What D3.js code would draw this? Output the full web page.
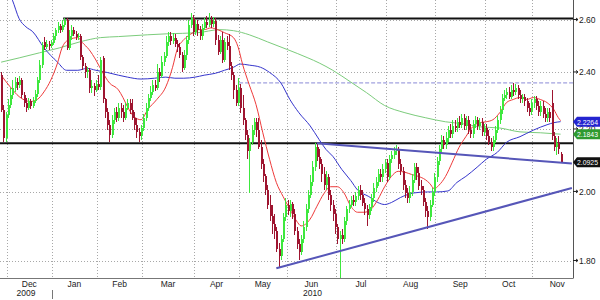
<!DOCTYPE html>
<html><head><meta charset="utf-8">
<script src="https://cdn.jsdelivr.net/npm/d3@7"></script>
<style>html,body{margin:0;padding:0;background:#fff;}svg{display:block;font-family:"Liberation Sans",Arial,sans-serif;}</style>
</head><body><svg id="c" width="600" height="300"></svg>
<script>
// ---------- DATA ----------
const firstDay = "2009-11-26", lastVisibleDay = "2010-11-24", labelEndDay = "2010-12-01";
const holidays = ["2009-12-24","2009-12-25","2009-12-31","2010-01-01","2010-04-02","2010-04-05"];
const opens = [
2.390,2.268,2.173,2.250,2.285,2.320,2.344,2.365,2.355,2.372,
2.320,2.292,2.275,2.296,2.282,2.299,2.323,2.372,2.427,2.515,
2.496,2.508,2.500,2.512,2.538,2.562,2.577,2.562,2.581,2.600,
2.492,2.538,2.562,2.546,2.535,2.538,2.458,2.423,2.400,2.408,
2.344,2.351,2.337,2.358,2.348,2.454,2.303,2.261,2.216,2.182,
2.233,2.261,2.240,2.275,2.261,2.240,2.275,2.289,2.268,2.240,
2.216,2.192,2.179,2.205,2.240,2.275,2.310,2.330,2.355,2.344,
2.400,2.386,2.438,2.462,2.515,2.538,2.519,2.531,2.508,2.496,
2.465,2.415,2.465,2.523,2.581,2.608,2.554,2.585,2.562,2.538,
2.569,2.592,2.581,2.600,2.585,2.596,2.523,2.477,2.523,2.446,
2.515,2.500,2.423,2.390,2.337,2.292,2.344,2.275,2.233,2.182,
2.128,2.160,2.198,2.226,2.198,2.141,2.086,2.048,2.006,1.962,
1.928,1.904,1.884,1.832,1.814,1.861,1.925,1.962,1.942,1.965,
1.933,1.884,1.846,1.826,1.861,1.896,1.948,1.991,2.032,2.077,
2.141,2.109,2.086,2.054,2.022,2.045,1.991,1.962,1.933,1.896,
1.861,1.872,1.861,1.913,1.948,1.962,1.977,1.971,1.988,2.006,
1.991,1.968,1.948,1.930,1.954,1.983,2.013,2.032,2.054,2.045,
2.070,2.090,2.045,2.102,2.115,2.128,2.134,2.086,2.064,2.022,
1.997,1.983,2.000,2.038,2.077,2.058,2.019,2.006,1.971,1.942,
1.925,1.962,2.000,2.045,2.096,2.134,2.166,2.147,2.173,2.198,
2.186,2.212,2.205,2.226,2.216,2.240,2.212,2.233,2.198,2.186,
2.219,2.233,2.212,2.226,2.192,2.205,2.179,2.160,2.141,2.166,
2.198,2.233,2.268,2.310,2.320,2.330,2.313,2.337,2.330,2.344,
2.320,2.303,2.313,2.296,2.275,2.261,2.289,2.303,2.282,2.261,
2.282,2.254,2.240,2.261,2.289,2.179,2.141,2.154,2.118];
const highs = [
2.400,2.285,2.261,2.303,2.344,2.372,2.383,2.379,2.386,2.379,
2.330,2.310,2.310,2.306,2.313,2.337,2.383,2.446,2.515,2.535,
2.523,2.519,2.523,2.550,2.569,2.592,2.585,2.600,2.608,2.608,
2.562,2.581,2.573,2.558,2.550,2.546,2.465,2.435,2.419,2.415,
2.372,2.362,2.372,2.390,2.458,2.462,2.310,2.275,2.233,2.250,
2.275,2.278,2.289,2.289,2.285,2.289,2.303,2.303,2.303,2.261,
2.240,2.205,2.216,2.254,2.292,2.323,2.351,2.372,2.372,2.431,
2.415,2.462,2.477,2.538,2.554,2.554,2.550,2.546,2.523,2.512,
2.477,2.485,2.538,2.600,2.628,2.620,2.600,2.600,2.577,2.585,
2.608,2.616,2.628,2.616,2.612,2.608,2.542,2.538,2.554,2.531,
2.538,2.546,2.438,2.400,2.355,2.379,2.358,2.320,2.240,2.198,
2.173,2.216,2.240,2.240,2.240,2.166,2.102,2.054,2.022,1.991,
1.962,1.933,1.896,1.849,1.872,1.936,1.983,1.977,1.977,1.971,
1.948,1.896,1.861,1.872,1.913,1.965,2.006,2.051,2.096,2.154,
2.154,2.134,2.102,2.077,2.064,2.054,2.006,1.977,1.948,1.904,
1.884,1.890,1.925,1.959,1.977,1.988,1.991,2.000,2.019,2.022,
2.006,1.983,1.962,1.965,1.994,2.026,2.045,2.070,2.070,2.086,
2.102,2.102,2.115,2.128,2.141,2.147,2.141,2.102,2.077,2.038,
2.013,2.019,2.054,2.090,2.090,2.077,2.038,2.019,1.983,1.957,
1.977,2.013,2.058,2.109,2.147,2.182,2.179,2.192,2.212,2.219,
2.233,2.233,2.240,2.247,2.254,2.254,2.247,2.247,2.219,2.233,
2.247,2.243,2.240,2.240,2.219,2.219,2.198,2.173,2.179,2.212,
2.247,2.282,2.323,2.337,2.344,2.348,2.355,2.362,2.358,2.355,
2.337,2.323,2.323,2.310,2.289,2.303,2.317,2.317,2.296,2.296,
2.296,2.275,2.275,2.275,2.337,2.192,2.173,2.179,2.125];
const lows = [
2.261,2.157,2.157,2.240,2.275,2.303,2.330,2.337,2.344,2.310,
2.278,2.261,2.268,2.271,2.275,2.289,2.313,2.362,2.415,2.485,
2.488,2.485,2.492,2.504,2.523,2.550,2.550,2.554,2.573,2.485,
2.485,2.523,2.538,2.523,2.523,2.446,2.408,2.379,2.379,2.327,
2.327,2.317,2.330,2.337,2.337,2.292,2.240,2.198,2.157,2.173,
2.219,2.226,2.230,2.240,2.226,2.233,2.268,2.254,2.233,2.198,
2.173,2.157,2.166,2.195,2.230,2.264,2.299,2.320,2.334,2.337,
2.365,2.379,2.423,2.454,2.500,2.504,2.508,2.496,2.477,2.454,
2.400,2.408,2.446,2.508,2.569,2.538,2.542,2.538,2.523,2.523,
2.562,2.569,2.573,2.569,2.573,2.504,2.465,2.469,2.435,2.438,
2.485,2.408,2.372,2.303,2.282,2.282,2.257,2.216,2.166,2.102,
1.997,2.147,2.182,2.176,2.134,2.070,2.032,1.991,1.948,1.913,
1.875,1.861,1.826,1.780,1.803,1.852,1.913,1.930,1.925,1.919,
1.872,1.832,1.803,1.817,1.849,1.884,1.936,1.983,2.019,2.064,
2.096,2.070,2.032,2.006,2.006,1.977,1.942,1.913,1.875,1.846,
1.751,1.846,1.852,1.901,1.936,1.954,1.959,1.959,1.977,1.977,
1.957,1.930,1.899,1.919,1.942,1.971,2.000,2.019,2.032,2.032,
2.058,2.032,2.038,2.090,2.102,2.115,2.070,2.051,2.006,1.983,
1.968,1.968,1.988,2.026,2.038,2.006,1.991,1.959,1.925,1.890,
1.913,1.954,1.988,2.032,2.083,2.118,2.134,2.134,2.160,2.173,
2.173,2.192,2.192,2.205,2.205,2.198,2.198,2.186,2.173,2.173,
2.205,2.198,2.198,2.179,2.179,2.166,2.147,2.128,2.128,2.154,
2.189,2.219,2.254,2.296,2.303,2.303,2.303,2.317,2.320,2.303,
2.289,2.292,2.282,2.261,2.247,2.250,2.275,2.268,2.247,2.247,
2.240,2.226,2.226,2.226,2.166,2.128,2.115,2.118,2.090];
const closes = [
2.268,2.173,2.250,2.285,2.320,2.344,2.365,2.355,2.372,2.320,
2.292,2.275,2.296,2.282,2.299,2.323,2.372,2.427,2.504,2.496,
2.508,2.500,2.512,2.538,2.562,2.577,2.562,2.581,2.600,2.492,
2.538,2.562,2.546,2.535,2.538,2.458,2.423,2.400,2.408,2.344,
2.351,2.337,2.358,2.348,2.446,2.303,2.261,2.216,2.182,2.233,
2.261,2.240,2.275,2.261,2.240,2.275,2.289,2.268,2.240,2.216,
2.192,2.179,2.205,2.240,2.275,2.310,2.330,2.355,2.344,2.400,
2.386,2.438,2.462,2.515,2.538,2.519,2.531,2.508,2.496,2.465,
2.415,2.465,2.523,2.581,2.608,2.554,2.585,2.562,2.538,2.569,
2.592,2.581,2.600,2.585,2.596,2.523,2.477,2.523,2.446,2.515,
2.500,2.423,2.390,2.337,2.292,2.344,2.275,2.233,2.182,2.128,
2.160,2.198,2.226,2.198,2.141,2.086,2.048,2.006,1.962,1.928,
1.904,1.884,1.832,1.814,1.861,1.925,1.962,1.942,1.965,1.933,
1.884,1.846,1.826,1.861,1.896,1.948,1.991,2.032,2.077,2.141,
2.109,2.086,2.054,2.022,2.045,1.991,1.962,1.933,1.896,1.861,
1.872,1.861,1.913,1.948,1.962,1.977,1.971,1.988,2.006,1.991,
1.968,1.948,1.930,1.954,1.983,2.013,2.032,2.054,2.045,2.070,
2.090,2.045,2.102,2.115,2.128,2.134,2.086,2.064,2.022,1.997,
1.983,2.000,2.038,2.077,2.058,2.019,2.006,1.971,1.942,1.925,
1.962,2.000,2.045,2.096,2.134,2.166,2.147,2.173,2.198,2.186,
2.212,2.205,2.226,2.216,2.240,2.212,2.233,2.198,2.186,2.219,
2.233,2.212,2.226,2.192,2.205,2.179,2.160,2.141,2.166,2.198,
2.233,2.268,2.310,2.320,2.330,2.313,2.337,2.330,2.344,2.320,
2.303,2.313,2.296,2.275,2.261,2.289,2.303,2.282,2.261,2.282,
2.254,2.240,2.261,2.240,2.179,2.141,2.154,2.134,2.0925];
// moving averages: [trading-day index, value]
const redMA = [[0,2.390],[4,2.348],[8,2.313],[13,2.296],[16,2.303],[19,2.330],[22,2.372],[25,2.435],[27,2.492],[30,2.523],[34,2.531],[36,2.512],[39,2.485],[42,2.446],[45,2.400],[48,2.362],[52,2.337],[54,2.310],[56,2.278],[59,2.243],[62,2.233],[65,2.268],[69,2.303],[73,2.348],[76,2.419],[78,2.485],[81,2.523],[85,2.550],[87,2.562],[90,2.562],[93,2.569],[96,2.562],[99,2.550],[103,2.531],[105,2.496],[107,2.431],[110,2.355],[113,2.285],[116,2.189],[119,2.102],[122,2.029],[125,1.986],[128,1.948],[131,1.913],[133,1.899],[137,1.919],[140,1.957],[143,1.994],[146,2.016],[149,2.016],[152,1.997],[155,1.957],[158,1.939],[161,1.939],[164,1.948],[167,1.977],[170,2.016],[173,2.048],[176,2.064],[179,2.061],[182,2.054],[185,2.048],[188,2.038],[190,2.026],[192,2.010],[194,2.020],[197,2.048],[200,2.093],[203,2.141],[206,2.176],[209,2.209],[212,2.223],[215,2.226],[218,2.233],[221,2.257],[224,2.292],[227,2.303],[230,2.310],[233,2.303],[236,2.310],[239,2.303],[242,2.292],[245,2.268],[247,2.240],[248,2.230]];
const blueMA = [[2,2.740],[5,2.680],[8,2.605],[11,2.573],[14,2.554],[19,2.492],[25,2.438],[29,2.408],[34,2.408],[38,2.415],[42,2.408],[47,2.400],[52,2.390],[56,2.383],[62,2.376],[68,2.379],[73,2.383],[77,2.379],[81,2.379],[86,2.383],[90,2.390],[95,2.397],[99,2.408],[103,2.419],[106,2.431],[110,2.427],[115,2.419],[119,2.400],[124,2.362],[128,2.303],[132,2.257],[137,2.212],[141,2.166],[144,2.134],[147,2.112],[151,2.070],[155,2.035],[158,2.006],[163,1.986],[167,1.968],[170,1.962],[173,1.968],[177,1.983],[183,1.997],[189,2.000],[193,2.000],[198,2.003],[202,2.029],[206,2.048],[211,2.077],[215,2.102],[220,2.125],[224,2.157],[230,2.176],[236,2.198],[242,2.216],[245,2.223],[248,2.2264]];
const greenMA = [[0,2.438],[8,2.454],[17,2.473],[26,2.492],[35,2.515],[44,2.531],[52,2.535],[65,2.542],[74,2.546],[87,2.550],[97,2.562],[103,2.558],[110,2.542],[118,2.515],[127,2.485],[136,2.454],[141,2.435],[147,2.408],[155,2.365],[162,2.327],[170,2.282],[179,2.257],[188,2.240],[197,2.226],[205,2.219],[212,2.209],[221,2.205],[230,2.192],[239,2.189],[248,2.1843]];
const yTicks = [1.80, 2.00, 2.20, 2.40, 2.60];
const trendLines = [[[140,2.154],[253,2.089]], [[122,1.780],[253,2.012]]];
const levelLines = [{start:28, value:2.606, kind:"solid"}, {start:0, value:2.154, kind:"solid"}, {start:106, value:2.362, kind:"dash"}];
const lastValues = [{value:2.2264, fill:"#2424d0"}, {value:2.1843, fill:"#2f9a2f"}, {value:2.0925, fill:"#111111"}];

// ---------- CHART ----------
const W = 573, H = 278;
const parse = d3.timeParse("%Y-%m-%d");
const hol = new Set(holidays);
const fmtKey = d3.timeFormat("%Y-%m-%d");
const allDays = d3.timeDay.range(parse(firstDay), d3.timeDay.offset(parse(labelEndDay),1))
  .filter(d => d.getDay()!==0 && d.getDay()!==6 && !hol.has(fmtKey(d)));
const nVisible = allDays.filter(d => d <= parse(lastVisibleDay)).length;

const x = d3.scaleLinear().domain([0, nVisible]).range([0, W]);
const y = d3.scaleLog().domain([1.80, 2.60]).range([261, 20]);

const svg = d3.select("#c");
svg.append("defs").append("clipPath").attr("id","clip").append("rect").attr("x",0).attr("y",0).attr("width",W).attr("height",H);

// month starts
const monthStarts = [];
allDays.forEach((d,i) => { if (i>0 && d.getMonth()!==allDays[i-1].getMonth()) monthStarts.push(i); });
const grid = svg.append("g");
monthStarts.filter(i => i < nVisible).forEach(i => {
  grid.append("line").attr("x1", Math.round(x(i))+0.5).attr("x2", Math.round(x(i))+0.5).attr("y1",0).attr("y2",H)
    .attr("stroke","#a8a8a8").attr("stroke-dasharray","1,2");
});
yTicks.forEach(v => {
  grid.append("line").attr("x1",0).attr("x2",W).attr("y1",Math.round(y(v))+0.5).attr("y2",Math.round(y(v))+0.5)
    .attr("stroke","#a8a8a8").attr("stroke-dasharray","1,2");
});

const plot = svg.append("g").attr("clip-path","url(#clip)");

// level lines
levelLines.forEach(l => {
  const yy = y(l.value);
  plot.append("line").attr("x1", x(l.start)).attr("x2", W).attr("y1", yy).attr("y2", yy)
    .attr("stroke", l.kind==="dash" ? "#8a8ad6" : "#111")
    .attr("stroke-width", l.kind==="dash" ? 1 : 2)
    .attr("stroke-dasharray", l.kind==="dash" ? "4,2" : null);
});

// moving averages
const line = d3.line().x(d => x(d[0]+0.5)).y(d => y(d[1])).curve(d3.curveMonotoneX);
[[greenMA,"#7ccc7c"],[blueMA,"#3535cc"],[redMA,"#ee3a3a"]].forEach(([data,col]) => {
  plot.append("path").attr("d", line(data)).attr("fill","none").attr("stroke",col).attr("stroke-width",1);
});

// candles
const candles = plot.append("g").attr("shape-rendering","crispEdges");
closes.forEach((c,i) => {
  const o = opens[i], up = c >= o;
  const col = up ? "#3ee83e" : "#9e1530";
  const cx = Math.round(x(i+0.5));
  candles.append("line").attr("x1",cx+0.5).attr("x2",cx+0.5).attr("y1",y(highs[i])).attr("y2",y(lows[i])).attr("stroke",col);
  const yt = y(Math.max(o,c)), yb = y(Math.min(o,c));
  candles.append("rect").attr("x",cx-0.5).attr("width",2).attr("y",yt).attr("height",Math.max(1,yb-yt)).attr("fill",col);
});

// trendlines
trendLines.forEach(t => {
  plot.append("line").attr("x1",x(t[0][0]+0.5)).attr("y1",y(t[0][1])).attr("x2",x(t[1][0]+0.5)).attr("y2",y(t[1][1]))
    .attr("stroke","#5656b8").attr("stroke-width",2);
});

// axes
svg.append("line").attr("x1",0).attr("x2",W).attr("y1",H+0.5).attr("y2",H+0.5).attr("stroke","#777");
svg.append("line").attr("x1",W+0.5).attr("x2",W+0.5).attr("y1",0).attr("y2",H+0.5).attr("stroke","#555");

const fmtMonth = d3.timeFormat("%b");
monthStarts.forEach((s,k) => {
  if (k === monthStarts.length-1) return;
  const e = monthStarts[k+1];
  svg.append("text").attr("x",(x(s)+x(e))/2).attr("y",287).attr("text-anchor","middle")
    .attr("font-size","8.5px").attr("fill","#222").text(fmtMonth(allDays[s]));
});
// years
const yearGroups = d3.groups(d3.range(nVisible), i => allDays[i].getFullYear());
yearGroups.forEach(([yr, idx]) => {
  const a = x(idx[0]), b = x(idx[idx.length-1]+1);
  svg.append("text").attr("x",(a+b)/2).attr("y",296).attr("text-anchor","middle")
    .attr("font-size","8.5px").attr("fill","#222").text(yr);
  if (idx[0] > 0) svg.append("line").attr("x1",Math.round(a)+0.5).attr("x2",Math.round(a)+0.5).attr("y1",290).attr("y2",299).attr("stroke","#777");
});

// y ticks (2.20 sits partly behind the last-value boxes, as in the original)
yTicks.forEach(v => {
  const yy = y(v);
  svg.append("path").attr("d",`M${W},${yy-0.5}L${W+5},${yy-0.5}L${W+3},${yy-2}M${W+5},${yy-0.5}L${W+3},${yy+1}`).attr("stroke","#222").attr("fill","none");
  svg.append("text").attr("x",W+6).attr("y",yy+3).attr("font-size","8.5px").attr("fill","#222").text(v.toFixed(2));
});

// last value labels
lastValues.forEach(l => {
  const yy = y(l.value);
  svg.append("path").attr("d",`M${W},${yy}L${W+4},${yy-5}L600,${yy-5}L600,${yy+5}L${W+4},${yy+5}Z`).attr("fill",l.fill);
  svg.append("text").attr("x",W+4).attr("y",yy+3).attr("font-size","8px").attr("fill","#fff")
    .attr("textLength",21).attr("lengthAdjust","spacingAndGlyphs").text(l.value.toFixed(4));
});
</script></body></html>
